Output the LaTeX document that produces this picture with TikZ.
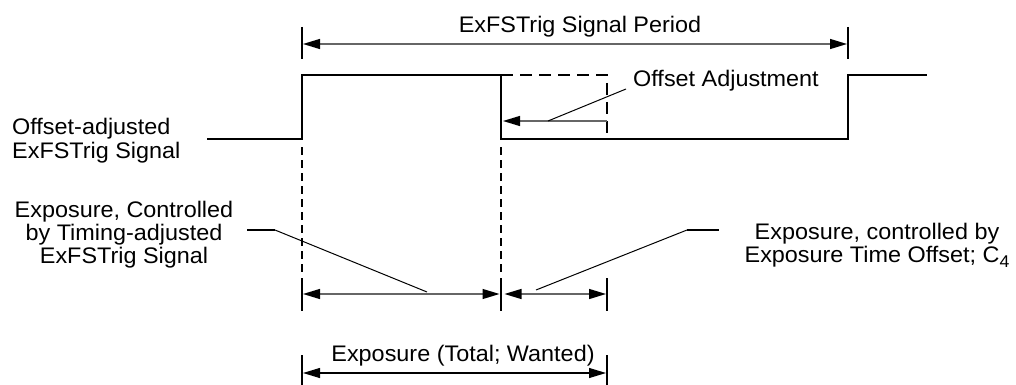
\documentclass[tikz,border=0pt]{standalone}
\usepackage{fontspec}
\setmainfont{Liberation Sans}[FakeStretch=1.04]
\usetikzlibrary{arrows.meta}
\newcommand{\subfour}{\raisebox{-5pt}{\fontsize{17}{17}\selectfont 4}}
\begin{document}
\begin{tikzpicture}[x=1pt,y=-1pt,
  sig/.style={line width=2pt, line join=miter},
  thin/.style={line width=1.1pt},
  dashv/.style={line width=1.1pt, dash pattern=on 8pt off 5pt},
  dashh/.style={line width=1.1pt, dash pattern=on 12pt off 7pt},
  dim/.style={line width=1.3pt, draw=black!60, {Triangle[length=17pt,width=10pt,color=black,fill=black]}-{Triangle[length=17pt,width=10pt,color=black,fill=black]}},
  dimk/.style={line width=1.1pt, {Triangle[length=17pt,width=10pt]}-{Triangle[length=17pt,width=10pt]}},
  onearr/.style={line width=1.3pt, draw=black!60, -{Triangle[length=17pt,width=10pt,color=black,fill=black]}},
  lead/.style={line width=1pt},
  leadh/.style={line width=2pt},
  lbl/.style={inner sep=0pt, font=\fontsize{22.5}{23}\selectfont}]
\useasboundingbox[fill=white] (0,0) rectangle (1016,385);

% waveform
\coordinate (s0) at (207,139);
\coordinate (r1b) at (302,139);
\coordinate (r1t) at (302,75);
\coordinate (f1t) at (501,75);
\coordinate (f1b) at (501,139);
\coordinate (r2b) at (848,139);
\coordinate (r2t) at (848,75);
\coordinate (s1) at (927,75);
\draw[sig] (s0) -- (r1b) -- (r1t) -- (f1t) -- (f1b) -- (r2b) -- (r2t) -- (s1);

% dashed shifted pulse
\coordinate (dt) at (607,75);
\coordinate (db) at (607,139);
\draw[dashh] (f1t) -- (dt) -- (db);

% offset adjustment arrow
\coordinate (oa1) at (607,121);
\coordinate (oa2) at (503,121);
\draw[onearr] (oa1) -- (oa2);
\node[lbl, anchor=base west] (offadj) at (633,87) {Offset Adjustment};
\coordinate (ol1) at (548,121);
\coordinate (ol2) at (626,89);
\draw[lead] (ol1) -- (ol2);

% period
\coordinate (pt1a) at (302,27); \coordinate (pt1b) at (302,59);
\coordinate (pt2a) at (848,27); \coordinate (pt2b) at (848,59);
\draw[thin] (pt1a) -- (pt1b);
\draw[thin] (pt2a) -- (pt2b);
\coordinate (pa1) at (303,44); \coordinate (pa2) at (847,44);
\draw[dim] (pa1) -- (pa2);
\node[lbl, anchor=base] (period) at (580,33) {ExFSTrig Signal Period};

% signal label
\node[lbl, anchor=base west] (siglbl) at (12,135)
  {\begin{tabular}[t]{@{}l@{}}Offset-adjusted\\ExFSTrig Signal\end{tabular}};

% dashed verticals
\coordinate (dv1a) at (302,147); \coordinate (dv1b) at (302,273);
\coordinate (dv2a) at (501,147); \coordinate (dv2b) at (501,273);
\draw[dashv] (dv1a) -- (dv1b);
\draw[dashv] (dv2a) -- (dv2b);

% exposure ticks and arrows
\coordinate (t1a) at (302,278); \coordinate (t1b) at (302,311);
\coordinate (t2a) at (501,278); \coordinate (t2b) at (501,311);
\coordinate (t3a) at (607,278); \coordinate (t3b) at (607,311);
\draw[thin] (t1a) -- (t1b);
\draw[thin] (t2a) -- (t2b);
\draw[thin] (t3a) -- (t3b);
\coordinate (e1a) at (303,294); \coordinate (e1b) at (499.5,294);
\coordinate (e2a) at (504.5,294); \coordinate (e2b) at (606,294);
\draw[dim] (e1a) -- (e1b);
\draw[dim] (e2a) -- (e2b);

% left exposure label + leader
\node[lbl, anchor=base] (explbl) at (124,217)
  {\begin{tabular}[t]{@{}c@{}}Exposure, Controlled\\by Timing-adjusted\\ExFSTrig Signal\end{tabular}};
\coordinate (ll0) at (247,230);
\coordinate (ll1) at (275,230);
\coordinate (ll2) at (427,292);
\draw[leadh] (ll0) -- (ll1);
\draw[lead] (ll1) -- (ll2);

% right exposure label + leader
\node[lbl, anchor=base] (offlbl) at (877,239)
  {\begin{tabular}[t]{@{}c@{}}Exposure, controlled by\\Exposure Time Offset; C\subfour\end{tabular}};
\coordinate (rl0) at (536,290);
\coordinate (rl1) at (687,230);
\coordinate (rl2) at (719,230);
\draw[lead] (rl0) -- (rl1);
\draw[leadh] (rl1) -- (rl2);

% total exposure
\coordinate (b1a) at (302,355); \coordinate (b1b) at (302,385);
\coordinate (b2a) at (607,355); \coordinate (b2b) at (607,385);
\draw[thin] (b1a) -- (b1b);
\draw[thin] (b2a) -- (b2b);
\coordinate (ta1) at (303,373); \coordinate (ta2) at (606,373);
\draw[dimk] (ta1) -- (ta2);
\node[lbl, anchor=base] (total) at (463,361) {Exposure (Total; Wanted)};
\end{tikzpicture}
\end{document}
